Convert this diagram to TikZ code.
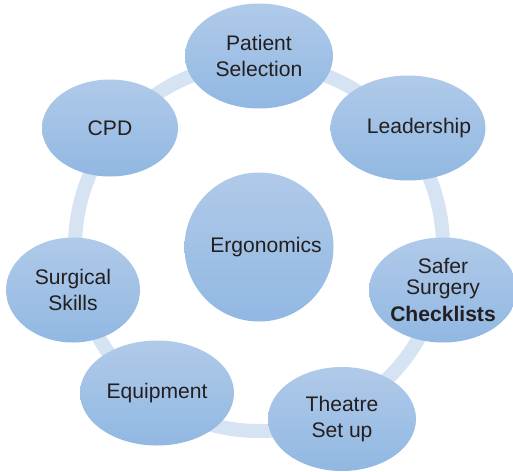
\documentclass[tikz,border=0pt]{standalone}
\usepackage{fontspec}
\setmainfont{Liberation Sans}
\usepackage{xcolor}
\usepackage{tikz}
\usetikzlibrary{shapes.geometric, backgrounds}
\definecolor{bubbletop}{RGB}{176,202,233}
\definecolor{bubblebottom}{RGB}{145,184,226}
\definecolor{ringblue}{RGB}{214,227,242}
\definecolor{inkgrey}{RGB}{35,31,32}

\begin{document}
\begin{tikzpicture}[
    every node/.style={font=\fontsize{15}{19}\selectfont, text=inkgrey},
    % negative inner sep: the minimum sizes alone fix the ellipse
    bubble/.style={ellipse, inner sep=-1cm, align=center,
                   top color=bubbletop, bottom color=bubblebottom,
                   minimum width=3.7cm, minimum height=2.625cm},
    hub/.style={bubble, minimum width=3.725cm, minimum height=3.725cm},
    ring/.style={line width=0.35cm, draw=ringblue},
  ]
  \useasboundingbox (0,0) rectangle (12.825,-11.775);

  % ============ CENTRE ============
  \node[hub] (ergo) at (6.475, -6.175) {\hspace*{0.35cm}Ergonomics};

  % ============ OUTER BUBBLES (clockwise from top) ============
  \node[bubble] (patient) at (6.475, -1.4) {Patient\\Selection};
  \node[bubble, minimum width=3.875cm] (lead) at (10.2, -3.2)
    {\hspace*{0.55cm}Leadership};
  \node[bubble, font=\fontsize{15}{15.2}\selectfont] (safer)
    at (11.075, -7.25) {Safer\\Surgery\\[4pt]\bfseries Checklists};
  \node[bubble, minimum height=2.6cm, font=\fontsize{15}{18}\selectfont]
    (theatre) at (8.55, -10.475) {Theatre\\Set up};
  \node[bubble, minimum width=3.85cm] (equip) at (3.925, -9.825) {Equipment};
  \node[bubble, minimum width=3.35cm] (skills) at (1.825, -7.25)
    {Surgical\\Skills};
  \node[bubble, minimum width=3.4cm, minimum height=2.425cm] (cpd)
    at (2.75, -3.2) {CPD};

  % ring behind the bubbles
  \begin{scope}[on background layer]
    \draw[ring] (ergo.center) circle[radius=4.6cm];
  \end{scope}

\end{tikzpicture}
\end{document}
